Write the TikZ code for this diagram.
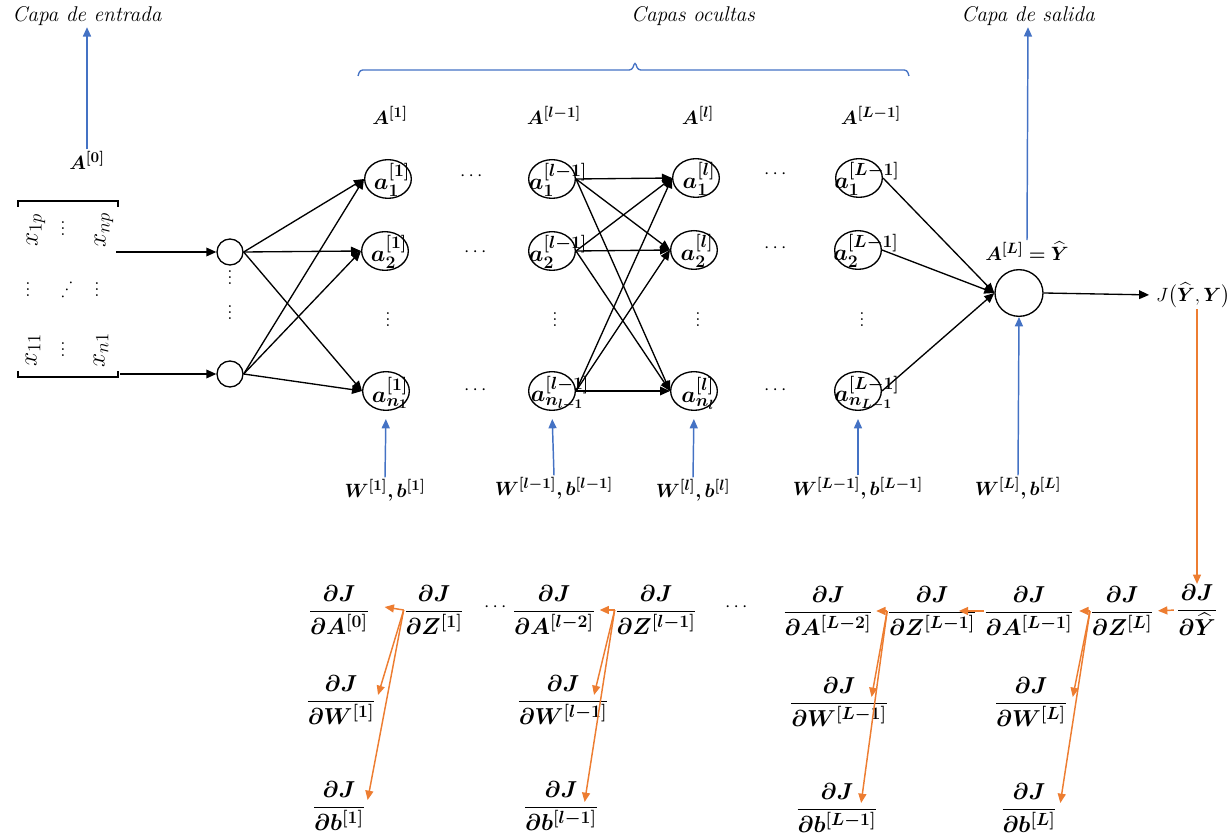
\documentclass[tikz,border=0pt]{standalone}
\usepackage{fix-cm}
\usepackage{amsmath,amssymb,bm}
\usetikzlibrary{shapes.geometric,arrows.meta}
\DeclareMathSizes{14.4}{14.4}{11.2}{9}
\DeclareMathSizes{17.28}{17.28}{13.2}{10}
\DeclareMathSizes{19}{19}{14}{11}
\DeclareMathSizes{20.74}{20.74}{15}{12}
\definecolor{arrowblue}{RGB}{68,114,196}
\definecolor{gradorange}{RGB}{237,125,49}
\newcommand{\gradfrac}[1]{$\displaystyle\frac{\bm{\partial J}}{\bm{\partial #1}}$}
% vertical dots without the extra top kern of \vdots
\newcommand{\vdts}{\vbox{\baselineskip4.5pt\lineskiplimit0pt\hbox{.}\hbox{.}\hbox{.}}}
\begin{document}
\begin{tikzpicture}[x=0.75pt,y=-0.75pt,
  neuron/.style={draw, ellipse, line width=1pt, minimum width=35pt, minimum height=29pt, inner sep=0pt},
  outneuron/.style={draw, ellipse, line width=1pt, minimum width=36pt, minimum height=35pt, inner sep=0pt},
  inneuron/.style={draw, circle, line width=1pt, minimum size=19.5pt, inner sep=0pt},
  nlabel/.style={font=\LARGE, inner sep=0pt},
  wire/.style={line width=1pt, -{Triangle[length=7.5pt,width=6.5pt]}},
  bluearrow/.style={draw=arrowblue, line width=1.1pt, -{Triangle[length=7pt,width=6pt]}},
  gradarrow/.style={draw=gradorange, line width=1.1pt, -{Triangle[length=7pt,width=6pt]}},
  alabel/.style={font=\Large, inner sep=1pt},
  wlabel/.style={font=\Large, inner sep=1pt},
  caption/.style={font=\fontsize{16}{19}\selectfont\itshape, inner sep=1pt},
  grad/.style={font=\LARGE, inner sep=0pt},
  mentry/.style={font=\fontsize{19}{22}\selectfont, inner sep=0pt},
  dotsnode/.style={font=\Large, inner sep=0pt}]
\useasboundingbox (0,0) rectangle (1229,837);

% ---------- captions ----------
\node[caption] (capin) at (87,16) {Capa de entrada};
\node[caption] (caphid) at (693,16) {Capas ocultas};
\node[caption] (capout) at (1028,16) {Capa de salida};
\draw[arrowblue, line width=1pt, rounded corners=2pt] (358,76) -- (360,70) -- (632,70) -- (635,62) -- (638,70) -- (907,70) -- (909,76);

% ---------- input matrix (rotated) ----------
\draw[line width=1.5pt] (18,207) -- (18,201) -- (118,201) -- (118,207);
\draw[line width=1.5pt] (18,371) -- (18,377) -- (118,377) -- (118,371);
\node[mentry, rotate=90] (x1p) at (36,230) {$x_{1p}$};
\node[mentry, rotate=90] (xnp) at (104,230) {$x_{np}$};
\node[mentry, rotate=90] (x11) at (33,350) {$x_{11}$};
\node[mentry, rotate=90] (xn1) at (101,350) {$x_{n1}$};
\node[dotsnode] (md1) at (63,229) {\vdts};
\node[dotsnode] (md2) at (28,290) {\vdts};
\node[dotsnode, rotate=90] (md3) at (63,290) {$\ddots$};
\node[dotsnode] (md4) at (97,290) {\vdts};
\node[dotsnode] (md5) at (63,350) {\vdts};
\node[alabel] (A0) at (87,160) {$\bm{A^{[0]}}$};
\coordinate (mtop) at (116,252);
\coordinate (mbot) at (120,374);

% ---------- input neurons ----------
\node[inneuron] (i1) at (230,252) {};
\node[inneuron] (i2) at (230,374) {};
\node[dotsnode] at (230,278) {\vdts};
\node[dotsnode] at (230,313) {\vdts};

% ---------- hidden layers ----------
\node[neuron] (p1) at (388,179) {};
\node[neuron] (p2) at (385,251) {};
\node[neuron] (pn) at (386,391) {};
\node[neuron] (q1) at (552,179) {};
\node[neuron] (q2) at (552,251) {};
\node[neuron] (qn) at (552,391) {};
\node[neuron] (r1) at (696,178) {};
\node[neuron] (r2) at (694,250) {};
\node[neuron] (rn) at (694,391) {};
\node[neuron] (s1) at (859,178) {};
\node[neuron] (s2) at (858,250) {};
\node[neuron] (sn) at (858,391) {};
\node[outneuron] (out) at (1019,293) {};

\node[nlabel] at (392,180) {$\bm{a_1^{[1]}}$};
\node[nlabel] at (389,252) {$\bm{a_2^{[1]}}$};
\node[nlabel] at (390,393) {$\bm{a_{n_1}^{[1]}}$};
\node[nlabel] at (558,180) {$\bm{a_1^{[l-1]}}$};
\node[nlabel] at (558,252) {$\bm{a_2^{[l-1]}}$};
\node[nlabel] at (560,393) {$\bm{a_{n_{l-1}}^{[l-1]}}$};
\node[nlabel] at (699,179) {$\bm{a_1^{[l]}}$};
\node[nlabel] at (697,251) {$\bm{a_2^{[l]}}$};
\node[nlabel] at (698,393) {$\bm{a_{n_l}^{[l]}}$};
\node[nlabel] at (867,179) {$\bm{a_1^{[L-1]}}$};
\node[nlabel] at (866,251) {$\bm{a_2^{[L-1]}}$};
\node[nlabel] at (867,393) {$\bm{a_{n_{L-1}}^{[L-1]}}$};

\foreach \x in {388,555,698,862} \node[dotsnode] at (\x,320) {\vdts};
\foreach \x/\y in {473/176,477/252,477/390,777/174,777/248,777/390} \node[dotsnode] at (\x,\y) {$\cdots$};

\node[alabel] (A1) at (390,115) {$\bm{A^{[1]}}$};
\node[alabel] (Al1) at (554,115) {$\bm{A^{[l-1]}}$};
\node[alabel] (Al) at (698,115) {$\bm{A^{[l]}}$};
\node[alabel] (AL1) at (871,115) {$\bm{A^{[L-1]}}$};
\node[alabel] (AL) at (1027,251) {$\bm{A^{[L]}=\widehat{Y}}$};
\node[font=\Large, inner sep=1pt] (J) at (1193,295) {$J\bigl(\bm{\widehat{Y}},\bm{Y}\bigr)$};

\node[wlabel] (w1) at (385,490) {$\bm{W^{[1]},b^{[1]}}$};
\node[wlabel] (wl1) at (554,488) {$\bm{W^{[l-1]},b^{[l-1]}}$};
\node[wlabel] (wl) at (693,490) {$\bm{W^{[l]},b^{[l]}}$};
\node[wlabel] (wL1) at (858,488) {$\bm{W^{[L-1]},b^{[L-1]}}$};
\node[wlabel] (wL) at (1018,488) {$\bm{W^{[L]},b^{[L]}}$};

% ---------- forward connections ----------
\draw[wire] (mtop) -- (i1.west);
\draw[wire] (mbot) -- (i2.west);
\foreach \s in {i1,i2} \foreach \t in {p1,p2,pn} \draw[wire] (\s.east) -- (\t.west);
\foreach \s in {q1,q2,qn} \foreach \t in {r1,r2,rn} \draw[wire] (\s.east) -- (\t.west);
\foreach \s in {s1,s2,sn} \draw[wire] (\s.east) -- (out.west);
\draw[wire, shorten >=4pt] (out.east) -- (J.west);

% ---------- layer annotations ----------
\draw[bluearrow] (A0.north) -- (capin.south);
\draw[bluearrow] (AL.north) -- (capout.south);
\draw[bluearrow, shorten >=6pt] (w1.north) -- (pn.south);
\draw[bluearrow, shorten >=6pt] (wl1.north) -- (qn.south);
\draw[bluearrow, shorten >=6pt] (wl.north) -- (rn.south);
\draw[bluearrow, shorten >=6pt] (wL1.north) -- (sn.south);
\draw[bluearrow] (wL.north) -- (out.south);

% ---------- backward pass ----------
\node[grad] (gA0) at (339,610) {\gradfrac{A^{[0]}}};
\node[grad] (gZ1) at (434,610) {\gradfrac{Z^{[1]}}};
\node[dotsnode] at (497,607) {$\cdots$};
\node[grad] (gAl2) at (554,610) {\gradfrac{A^{[l-2]}}};
\node[grad] (gZl1) at (656,610) {\gradfrac{Z^{[l-1]}}};
\node[dotsnode] at (738,607) {$\cdots$};
\node[grad] (gAL2) at (828,611) {\gradfrac{A^{[L-2]}}};
\node[grad] (gZL1) at (932,611) {\gradfrac{Z^{[L-1]}}};
\node[grad] (gAL1) at (1029,611) {\gradfrac{A^{[L-1]}}};
\node[grad] (gZL) at (1122,611) {\gradfrac{Z^{[L]}}};
\node[grad] (gY) at (1197,610) {\gradfrac{\widehat{Y}}};

\node[grad] (gW1) at (341,700) {\gradfrac{W^{[1]}}};
\node[grad] (gWl1) at (563,700) {\gradfrac{W^{[l-1]}}};
\node[grad] (gWL1) at (839,702) {\gradfrac{W^{[L-1]}}};
\node[grad] (gWL) at (1031,702) {\gradfrac{W^{[L]}}};
\node[grad] (gb1) at (339,806) {\gradfrac{b^{[1]}}};
\node[grad] (gbl1) at (561,806) {\gradfrac{b^{[l-1]}}};
\node[grad] (gbL1) at (837,808) {\gradfrac{b^{[L-1]}}};
\node[grad] (gbL) at (1029,808) {\gradfrac{b^{[L]}}};

\draw[gradarrow] (gY.north |- J.south) -- (gY.north);
\draw[gradarrow, shorten <=2pt, shorten >=3pt] (gY.west) -- (gZL.east);
\draw[gradarrow] (gZL.west) -- ([shift={(5,0)}]gAL1.east);
\draw[gradarrow] (gZL.west) -- ([shift={(5,-5)}]gWL.east);
\draw[gradarrow] (gZL.west) -- ([shift={(3,-5)}]gbL.east);
\draw[gradarrow] (gAL1.west) -- ([shift={(-18,0)}]gZL1.east);
\draw[gradarrow] (gZL1.west) -- ([shift={(3,0)}]gAL2.east);
\draw[gradarrow] (gZL1.west) -- ([shift={(-17,-5)}]gWL1.east);
\draw[gradarrow] (gZL1.west) -- ([shift={(-17,-5)}]gbL1.east);
\draw[gradarrow] (gZl1.west) -- ([shift={(4,0)}]gAl2.east);
\draw[gradarrow] (gZl1.west) -- ([shift={(-15,-5)}]gWl1.east);
\draw[gradarrow] (gZl1.west) -- ([shift={(-14,-4)}]gbl1.east);
\draw[gradarrow] (gZ1.west) -- ([shift={(15,-3)}]gA0.east);
\draw[gradarrow] (gZ1.west) -- ([shift={(2,-5)}]gW1.east);
\draw[gradarrow] (gZ1.west) -- ([shift={(2,-6)}]gb1.east);
\end{tikzpicture}
\end{document}
